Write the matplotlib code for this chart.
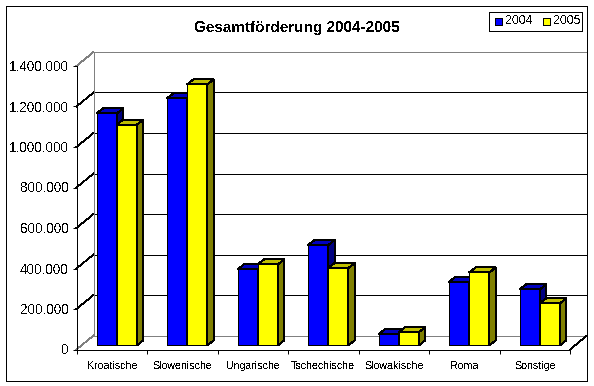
import matplotlib
matplotlib.use("Agg")
import matplotlib.pyplot as plt
import numpy as np
from matplotlib.patches import Polygon, Rectangle
from matplotlib.ticker import FuncFormatter
from matplotlib.transforms import Affine2D, IdentityTransform

plt.rcParams['font.family'] = ['Liberation Sans', 'DejaVu Sans']
plt.rcParams['text.antialiased'] = False
plt.rcParams['text.hinting'] = 'no_autohint'

categories = ['Kroatische', 'Slowenische', 'Ungarische', 'Tschechische',
              'Slowakische', 'Roma', 'Sonstige']
values_2004 = [1145000, 1220000, 375000, 495000, 55000, 314000, 276000]
values_2005 = [1090000, 1289000, 400000, 382000, 65000, 360000, 207000]
yticks = [0, 200000, 400000, 600000, 800000, 1000000, 1200000, 1400000]

W, H = 594, 386
LW = 0.72  # one pixel at dpi 100
fig = plt.figure(figsize=(W / 100, H / 100), dpi=100, facecolor='white')
ax = fig.add_axes([76.5 / W, (H - 349.5) / H, 493.5 / W, 283.5 / H])
ax.set_xlim(0, 7)
ax.set_ylim(0, 1400000)
ax.patch.set_visible(False)

# outer border
fig.add_artist(Rectangle((5.5, H - 380.5), 581.5, 375, transform=IdentityTransform(),
                         fill=False, ec='black', lw=LW, aa=False))

for s in ['top', 'right']:
    ax.spines[s].set_visible(False)
for s in ['left', 'bottom']:
    ax.spines[s].set_linewidth(LW)
    ax.spines[s].set_antialiased(False)
    ax.spines[s].set_zorder(6)

ax.yaxis.set_major_formatter(FuncFormatter(lambda v, p: f'{int(v):,}'.replace(',', '.')))
ax.set_yticks(yticks)
ax.tick_params(axis='y', labelsize=9.6, length=3, width=LW, pad=2.5)
ax.set_xticks(range(8))
ax.set_xticklabels([])
ax.tick_params(axis='x', length=3, width=LW)
ax.set_xticks(np.arange(7) + 0.5, categories, minor=True, fontsize=7.7)
ax.tick_params(axis='x', which='minor', length=0, pad=8.5)

# back wall, depth in pixels
DX, DY = 17, 14
back = ax.transData + Affine2D().translate(DX, DY)
ident = IdentityTransform()

fig.canvas.draw()
for v in yticks:
    col = 'black' if 0 < v < 1400000 else '#808080'
    ax.plot([0, 7], [v, v], color=col, lw=LW, transform=back, clip_on=False,
            antialiased=False, zorder=1)
    x0, y0 = ax.transData.transform((0, v))
    ax.plot([x0, x0 + DX], [y0, y0 + DY], color=col, lw=0.55, transform=ident,
            clip_on=False, antialiased=False, zorder=1)
ax.plot([0, 0], [0, 1400000], color='#808080', lw=LW, transform=back, clip_on=False,
        antialiased=False, zorder=1)
x0, y0 = ax.transData.transform((7, 0))
ax.plot([x0, x0 + DX], [y0, y0 + DY], color='black', lw=0.55, transform=ident,
        clip_on=False, antialiased=False, zorder=1)


def bar3d(x, v, w, front, top, side, z):
    # front face sits a bit above the axis, depth faces in pixels
    lift = ax.transData + Affine2D().translate(0, 4.2)
    ax.bar(x, v, w, align='edge', color=front, ec='black', lw=LW, transform=lift,
           antialiased=False, zorder=z, clip_on=False)
    (xl, yb), (xr, yt) = lift.transform([(x, 0), (x + w, v)])
    dx, dy = 6.5, 5
    ax.add_patch(Polygon([(xl, yt), (xl + dx, yt + dy), (xr + dx, yt + dy), (xr, yt)],
                         transform=ident, fc=top, ec='black', lw=LW, aa=False,
                         zorder=z, clip_on=False))
    ax.add_patch(Polygon([(xr, yb), (xr + dx, yb + dy), (xr + dx, yt + dy), (xr, yt)],
                         transform=ident, fc=side, ec='black', lw=LW, aa=False,
                         zorder=z, clip_on=False))


bw = 20.2 / 70.5
for i in range(7):
    x = i + 20 / 70.5
    bar3d(x, values_2004[i], bw, '#0000ff', '#0000bf', '#000080', 3 + i * 0.1)
    bar3d(x + bw, values_2005[i], bw, '#ffff00', '#bfbf00', '#808000', 3.05 + i * 0.1)

fig.text(296.5 / W, (H - 28) / H, 'Gesamtförderung 2004-2005', ha='center', va='center',
         fontsize=11, fontweight='bold')

# legend box
fig.add_artist(Rectangle((488.5, H - 30.5), 93, 19, transform=ident, fc='white',
                         ec='black', lw=LW, aa=False))
for x, col, lab in [(494.5, '#0000ff', '2004'), (542.5, '#ffff00', '2005')]:
    fig.add_artist(Rectangle((x, H - 24.5), 7, 7, transform=ident, fc=col, ec='black',
                             lw=LW, aa=False))
    fig.text((x + 11) / W, (H - 20.5) / H, lab, ha='left', va='center', fontsize=8.8)

fig.savefig('out.png', dpi=100)
